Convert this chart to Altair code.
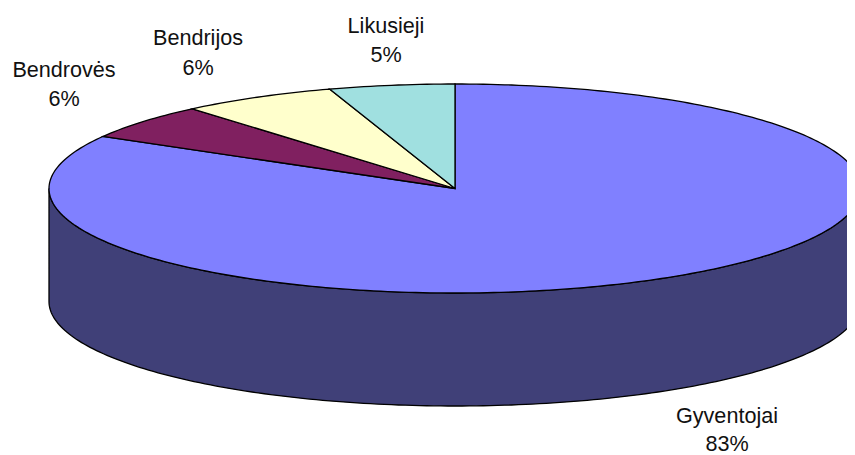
import math
import altair as alt
import pandas as pd

# Chart values, clockwise from 12 o'clock
categories = ["Gyventojai", "Bendrovės", "Bendrijos", "Likusieji"]
shares = [83.3, 5.5, 6.2, 5.0]
percent_labels = ["83%", "6%", "6%", "5%"]
colors = ["#8080FF", "#802060", "#FFFFCC", "#A0E0E0"]
wall_color = "#404078"
label_centers_x = [727, 64, 198, 386]
label_name_y = [417, 71, 39, 27]
label_pct_y = [445, 100, 69, 56]

# Pie geometry, in the pixel space of the picture
CX, CY, RX, RY, DEPTH = 455, 188.5, 406, 104.5, 113
X_DOMAIN = [8, 847]
Y_DOMAIN = [455, 8]
PLOT_W = X_DOMAIN[1] - X_DOMAIN[0]
PLOT_H = Y_DOMAIN[0] - Y_DOMAIN[1]
x_scale = alt.Scale(domain=X_DOMAIN, nice=False, zero=False)
y_scale = alt.Scale(domain=Y_DOMAIN, nice=False, zero=False)


def rim(deg):
    r = math.radians(deg)
    return CX + RX * math.sin(r), CY - RY * math.cos(r)


def polygon_layer(points, fill):
    df = pd.DataFrame(
        [{"x": p[0], "y": p[1], "i": i} for i, p in enumerate(points)]
    )
    return (
        alt.Chart(df)
        .mark_line(fill=fill, stroke="#000000", strokeWidth=1.3, clip=True, interpolate="linear-closed")
        .encode(
            x=alt.X("x:Q", scale=x_scale, axis=None),
            y=alt.Y("y:Q", scale=y_scale, axis=None),
            order="i:Q",
        )
    )


layers = []

# Side wall: front half of the rim, extruded downwards
front = [rim(a) for a in range(90, 271, 1)]
wall_points = front + [(x, y + DEPTH) for x, y in reversed(front)]
layers.append(polygon_layer(wall_points, wall_color))

# Top slices
total = sum(shares)
start = 0.0
for share, fill in zip(shares, colors):
    end = start + 360 * share / total
    steps = max(2, int(end - start))
    arc = [rim(start + (end - start) * k / steps) for k in range(steps + 1)]
    layers.append(polygon_layer([(CX, CY)] + arc, fill))
    start = end

# Labels
font = "Liberation Sans"
names = pd.DataFrame({"t": categories, "x": label_centers_x, "y": label_name_y})
pcts = pd.DataFrame({"t": percent_labels, "x": label_centers_x, "y": label_pct_y})
for df in (names, pcts):
    layers.append(
        alt.Chart(df)
        .mark_text(font=font, fontSize=21.6, color="#111111", align="center", baseline="middle")
        .encode(
            x=alt.X("x:Q", scale=x_scale, axis=None),
            y=alt.Y("y:Q", scale=y_scale, axis=None),
            text="t:N",
        )
    )

chart = (
    alt.layer(*layers)
    .properties(
        width=PLOT_W,
        height=PLOT_H,
        padding=0,
        autosize=alt.AutoSizeParams(type="none"),
        background="#FFFFFF",
    )
    .configure_view(stroke=None)
)

chart.save("out.html", embed_options={"renderer": "svg", "actions": False})
